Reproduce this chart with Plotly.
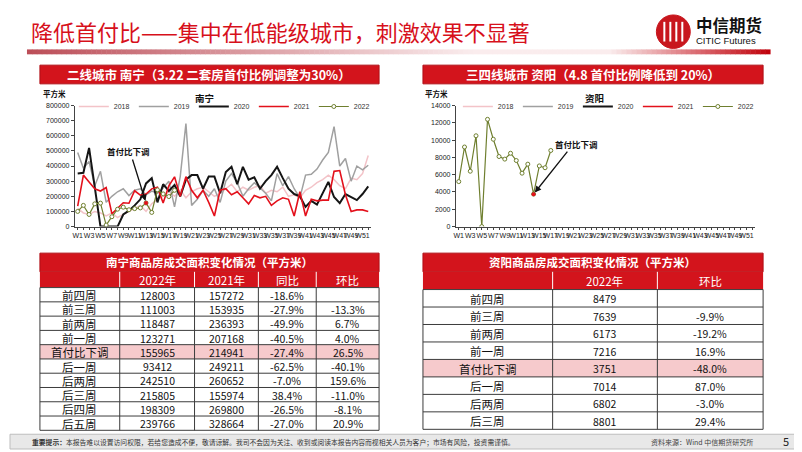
import plotly.graph_objects as go

# The page body keeps a default 8px margin, so the figure is drawn 8px smaller
# and every position below is given in window pixels, then shifted.
OFF = 8
W, H = 802 - OFF, 452 - OFF
RED = "#D3141C"
FONT_CN = "Noto Sans CJK SC"
FONT_NUM = "Liberation Sans Narrow, Liberation Sans, Arial"

# ── Chart data ────────────────────────────────────────────────────────────────
week_nums = list(range(1, 53))
week_ticks = [f"W{n}" if n % 2 == 1 else "" for n in week_nums]
years = ["2018", "2019", "2020", "2021", "2022"]

nn_2018 = [120000, 90000, 80000, 100000, 90000, 70000, 90000, 60000, 80000, 100000,
           120000, 140000, 100000, 150000, 180000, 200000, 230000, 200000, 240000, 190000,
           230000, 250000, 260000, 230000, 200000, 220000, 250000, 280000, 230000, 260000,
           240000, 260000, 270000, 220000, 240000, 230000, 260000, 200000, 210000, 190000,
           240000, 260000, 290000, 310000, 340000, 310000, 270000, 250000, 320000, 310000,
           350000, 470000]
nn_2019 = [490000, 385000, 430000, 270000, 365000, 160000, 200000, 230000, 250000, 205000,
           240000, 250000, 210000, 235000, 220000, 255000, 300000, 130000, 330000, 680000,
           140000, 180000, 240000, 200000, 250000, 160000, 300000, 350000, 290000, 200000,
           250000, 290000, 255000, 220000, 170000, 350000, 270000, 330000, 250000, 190000,
           340000, 345000, 380000, 440000, 490000, 660000, 400000, 450000, 300000, 400000,
           375000, 405000]
nn_2020 = [350000, 355000, 520000, 250000, 0, 0, 0, 0, 80000, 105000,
           140000, 180000, 285000, 320000, 160000, 280000, 235000, 275000, 200000, 310000,
           340000, 340000, 250000, 330000, 330000, 220000, 360000, 395000, 280000, 395000,
           310000, 325000, 250000, 300000, 340000, 395000, 320000, 250000, 215000, 200000,
           130000, 170000, 145000, 220000, 295000, 195000, 155000, 215000, 195000, 175000,
           215000, 265000]
nn_2021 = [135000, 340000, 295000, 250000, 235000, 258000, 85000, 120000, 157272, 153935,
           236393, 207168, 214941, 249211, 260652, 155974, 269800, 328664, 200000, 330000,
           240000, 190000, 240000, 160000, 70000, 240000, 250000, 210000, 230000, 190000,
           150000, 205000, 190000, 200000, 140000, 170000, 190000, 180000, 70000, 230000,
           70000, 180000, 170000, 175000, 175000, 365000, 370000, 210000, 100000, 110000,
           110000, 100000]
nn_2022 = [100000, 140000, 80000, 150000, 155000, 10000, 65000, 115000, 128003, 111003,
           118487, 123271, 155965, 93412, 242510, 215805, 198309, 239766]
zy_2022 = [5200, 9200, 6400, 10500, 0, 12400, 10100, 8100, 7800, 8479,
           7639, 6173, 7216, 3751, 7014, 6802, 8801]
nn_cut = 12   # W13
zy_cut = 13   # W14

# ── Table data ────────────────────────────────────────────────────────────────
nn_header = ["", "2022年", "2021年", "同比", "环比"]
nn_rows = ["前四周", "前三周", "前两周", "前一周", "首付比下调",
           "后一周", "后两周", "后三周", "后四周", "后五周"]
nn_tbl_2022 = [128003, 111003, 118487, 123271, 155965, 93412, 242510, 215805, 198309, 239766]
nn_tbl_2021 = [157272, 153935, 236393, 207168, 214941, 249211, 260652, 155974, 269800, 328664]
nn_yoy = [-18.6, -27.9, -49.9, -40.5, -27.4, -62.5, -7.0, 38.4, -26.5, -27.0]
nn_mom = [None, -13.3, 6.7, 4.0, 26.5, -40.1, 159.6, -11.0, -8.1, 20.9]

zy_header = ["", "2022年", "环比"]
zy_rows = ["前四周", "前三周", "前两周", "前一周", "首付比下调", "后一周", "后两周", "后三周"]
zy_tbl_2022 = [8479, 7639, 6173, 7216, 3751, 7014, 6802, 8801]
zy_mom = [None, -9.9, -19.2, 16.9, -48.0, 87.0, -3.0, 29.4]

year_colors = ["#F3C3C8", "#A0A0A0", "#151515", "#E3101B", "#6F7F2F"]
year_widths = [1.5, 1.5, 2.0, 1.6, 1.2]


def px(x):
    return (x - OFF) / W


def py(y):
    return 1 - (y - OFF) / H


def pct(v):
    return "" if v is None else f"{v:.1f}%"


fig = go.Figure()

# ── Nanning line chart ────────────────────────────────────────────────────────
nn_series = [nn_2018, nn_2019, nn_2020, nn_2021, nn_2022]
for yr, vals, col, lw in zip(years, nn_series, year_colors, year_widths):
    is22 = yr == "2022"
    fig.add_trace(go.Scatter(
        x=week_nums[:len(vals)], y=vals, name=yr,
        mode="lines+markers" if is22 else "lines",
        line=dict(color=col, width=lw),
        marker=dict(symbol="circle", size=4, color="white",
                    line=dict(color=col, width=1)),
        legend="legend", xaxis="x", yaxis="y",
    ))
fig.add_trace(go.Scatter(
    x=[week_nums[nn_cut]], y=[nn_2022[nn_cut]], mode="markers",
    marker=dict(color="#E3101B", size=4), showlegend=False, xaxis="x", yaxis="y",
))

# ── Ziyang line chart ─────────────────────────────────────────────────────────
for yr, col, lw in zip(years, year_colors, year_widths):
    is22 = yr == "2022"
    fig.add_trace(go.Scatter(
        x=week_nums[:len(zy_2022)] if is22 else [week_nums[0]],
        y=zy_2022 if is22 else [None],
        name=yr,
        mode="lines+markers" if is22 else "lines",
        line=dict(color=col, width=lw),
        marker=dict(symbol="circle", size=4, color="white",
                    line=dict(color=col, width=1)),
        legend="legend2", xaxis="x2", yaxis="y2",
    ))
fig.add_trace(go.Scatter(
    x=[week_nums[zy_cut]], y=[zy_2022[zy_cut]], mode="markers",
    marker=dict(color="#E3101B", size=4), showlegend=False, xaxis="x2", yaxis="y2",
))

# ── Axes ──────────────────────────────────────────────────────────────────────
xcommon = dict(
    tickmode="array", tickvals=week_nums, ticktext=week_ticks,
    tickangle=0, ticks="outside", ticklen=2, tickcolor="#444",
    showline=True, linecolor="#444", linewidth=1, showgrid=False, zeroline=False,
    tickfont=dict(family=FONT_NUM, size=7, color="#222"),
    range=[0.5, 52.5], fixedrange=True,
)
ycommon = dict(
    ticks="outside", ticklen=3, tickcolor="#444", showline=True, linecolor="#444",
    linewidth=1, showgrid=False, zeroline=False, tickformat="d",
    tickfont=dict(family=FONT_NUM, size=7, color="#222"),
)
fig.update_layout(
    xaxis=dict(domain=[px(73), px(370)], anchor="y", **xcommon),
    yaxis=dict(domain=[py(226), py(103)], anchor="x", range=[0, 800000],
               dtick=100000, **ycommon),
    xaxis2=dict(domain=[px(455), px(755)], anchor="y2", **xcommon),
    yaxis2=dict(domain=[py(226), py(103)], anchor="x2", range=[0, 14000],
                dtick=2000, **ycommon),
)

# ── Decorations ───────────────────────────────────────────────────────────────
shapes = []
ann = []


def rect(x0, x1, y0, y1, fill, line_color=None, lw=0):
    shapes.append(dict(type="rect", xref="paper", yref="paper", layer="below",
                       x0=px(x0), x1=px(x1), y0=py(y1), y1=py(y0), fillcolor=fill,
                       line=dict(color=line_color or fill, width=lw)))


def hline(x0, x1, y, color, lw=1):
    shapes.append(dict(type="line", xref="paper", yref="paper",
                       x0=px(x0), x1=px(x1), y0=py(y), y1=py(y),
                       line=dict(color=color, width=lw)))


def vline(x, y0, y1, color, lw=1):
    shapes.append(dict(type="line", xref="paper", yref="paper",
                       x0=px(x), x1=px(x), y0=py(y0), y1=py(y1),
                       line=dict(color=color, width=lw)))


def text(x, y, s, size, color="#111", bold=False, xanchor="center", family=FONT_CN):
    ann.append(dict(xref="paper", yref="paper", x=px(x), y=py(y), showarrow=False,
                    text=f"<b>{s}</b>" if bold else s, xanchor=xanchor, yanchor="middle",
                    font=dict(family=family, size=size, color=color)))


# gradient bar under the title
n_seg = 150
x_start, x_end = 25, 770
seg_w = (x_end - x_start) / n_seg
for i in range(n_seg):
    xm = x_start + (i + 0.5) * seg_w
    if xm < 470:
        t = (xm - x_start) / (470 - x_start)
        c0, c1 = (188, 78, 88), (250, 236, 237)
    elif xm < 610:
        t = 0
        c0, c1 = (250, 236, 237), (250, 236, 237)
    else:
        t = (xm - 610) / (x_end - 610)
        c0, c1 = (250, 236, 237), (192, 0, 10)
    rgb = tuple(int(a + (b - a) * t) for a, b in zip(c0, c1))
    rect(x_start + i * seg_w, x_start + (i + 1) * seg_w + 0.5, 46, 51, f"rgb{rgb}")

# logo
shapes.append(dict(type="circle", xref="paper", yref="paper",
                   x0=px(656), x1=px(690), y0=py(45), y1=py(11),
                   fillcolor="#C8161D", line=dict(color="#C8161D", width=1)))
for lx in [664, 670, 676, 682]:
    vline(lx, 18, 38, "white", 2)

# section headers and table titles
for x0, x1, y0, y1 in [(38, 378, 62, 81), (422, 763, 62, 81),
                       (38, 378, 253, 272), (422, 763, 253, 272)]:
    rect(x0, x1, y0, y1, RED, "#B00F16", 1)

# footer band and frame
rect(OFF, 802, 437, 452, "#E8E8E8", "#BDBDBD", 1)
vline(801, OFF, 452, "#9a9a9a", 2)


def draw_table(edges, top, head_h, row_h, header, columns, fonts, highlight):
    n_rows = len(columns[0])
    body_top = top + head_h
    bottom = body_top + n_rows * row_h
    rect(edges[0], edges[-1], top, body_top, RED, RED, 0)
    for j, h in enumerate(header):
        text((edges[j] + edges[j + 1]) / 2, top + head_h / 2 + 0.5, h, 11.5, color="white")
    for e in edges[1:-1]:
        vline(e, top, body_top, "white", 1)
    for i in range(n_rows):
        y0 = body_top + i * row_h
        fill = "#F6CACC" if columns[0][i] == highlight else "white"
        rect(edges[0], edges[-1], y0, y0 + row_h, fill)
        for j, col in enumerate(columns):
            v = col[i]
            text((edges[j] + edges[j + 1]) / 2, y0 + row_h / 2 + 0.5,
                 "" if v is None else str(v), fonts[j])
    for i in range(n_rows + 1):
        hline(edges[0], edges[-1], body_top + i * row_h, "#3c3c3c", 1)
    for e in edges:
        vline(e, body_top, bottom, "#3c3c3c", 1)


draw_table([38, 118, 193, 257, 315, 378], 272, 16, 14.5, nn_header,
           [nn_rows, nn_tbl_2022, nn_tbl_2021,
            [pct(v) for v in nn_yoy], [pct(v) for v in nn_mom]],
           [11.5, 10.5, 10.5, 10.5, 10.5], "首付比下调")
draw_table([422, 552, 657, 763], 272, 18, 17.75, zy_header,
           [zy_rows, zy_tbl_2022, [pct(v) for v in zy_mom]],
           [11.5, 10.5, 10.5], "首付比下调")

text(27, 27, "降低首付比——集中在低能级城市，刺激效果不显著", 22, color="#D7101B",
     xanchor="left")
text(694, 21, "中信期货", 16.5, color="#111", bold=True, xanchor="left")
text(694, 37, "CITIC Futures", 9.5, color="#111", xanchor="left", family=FONT_NUM)
text(208, 71.5, "二线城市 南宁（3.22 二套房首付比例调整为30%）", 12.5, color="white", bold=True)
text(592, 71.5, "三四线城市 资阳（4.8 首付比例降低到 20%）", 12.5, color="white", bold=True)
text(208, 262.5, "南宁商品房成交面积变化情况（平方米）", 11.5, color="white", bold=True)
text(592, 262.5, "资阳商品房成交面积变化情况（平方米）", 11.5, color="white", bold=True)
text(39, 91, "平方米", 7.5, bold=True, xanchor="left")
text(422, 91, "平方米", 7.5, bold=True, xanchor="left")
text(203, 95, "南宁", 9.5, bold=True)
text(594, 95, "资阳", 9.5, bold=True)
text(127, 149, "首付比下调", 8.5, bold=True)
text(576, 142, "首付比下调", 8.5, bold=True)
text(28, 444.5, "<b>重要提示：</b>本报告难以设置访问权限，若给您造成不便，敬请谅解。"
     "我司不会因为关注、收到或阅读本报告内容而视相关人员为客户；市场有风险，投资需谨慎。",
     6.8, color="#333", xanchor="left")
text(649, 444.5, "资料来源：Wind 中信期货研究所", 7, color="#444", xanchor="left")
text(786, 443.5, "5", 11, color="#222")

# arrows to the cut-week points
ann.append(dict(xref="x", yref="y", x=week_nums[nn_cut], y=nn_2022[nn_cut], text="",
                showarrow=True, ax=-14, ay=-45, arrowhead=2, arrowsize=1,
                arrowwidth=1.3, arrowcolor="#111", standoff=2))
ann.append(dict(xref="x2", yref="y2", x=week_nums[zy_cut], y=zy_2022[zy_cut], text="",
                showarrow=True, ax=35, ay=-44, arrowhead=2, arrowsize=1,
                arrowwidth=1.3, arrowcolor="#111", standoff=2))

legend_common = dict(
    orientation="h", yanchor="middle", xanchor="left", y=py(104),
    font=dict(family=FONT_NUM, size=7, color="#333"), bgcolor="rgba(0,0,0,0)",
    itemwidth=30, tracegroupgap=0, entrywidth=15, entrywidthmode="pixels",
)
fig.update_layout(
    width=W, height=H, autosize=False,
    margin=dict(l=0, r=0, t=0, b=0),
    paper_bgcolor="white", plot_bgcolor="white",
    shapes=shapes, annotations=ann,
    legend=dict(x=px(72), **legend_common),
    legend2=dict(x=px(457), **legend_common),
    showlegend=True,
)

fig.write_html("out.html")
